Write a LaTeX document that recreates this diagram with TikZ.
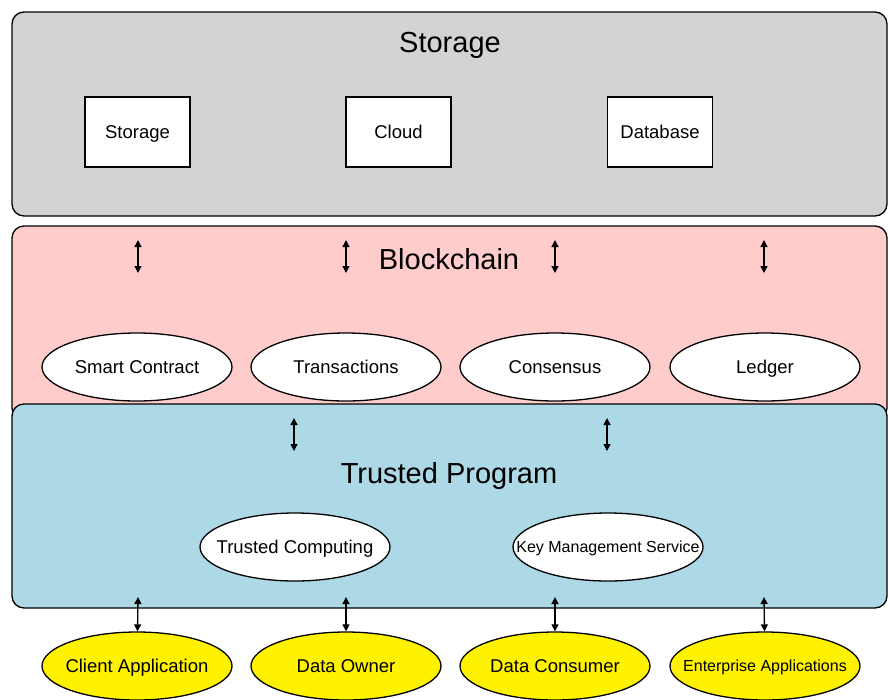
\documentclass[tikz,border=0pt]{standalone}
\usepackage{fontspec}
\setmainfont{Liberation Sans}
\usetikzlibrary{arrows.meta, positioning, shapes}

\definecolor{storagegray}{HTML}{D3D3D3}
\definecolor{chainpink}{HTML}{FFCCCC}
\definecolor{trustblue}{HTML}{ADD8E6}

\begin{document}
\begin{tikzpicture}[x=1pt, y=-1pt, >={Triangle[width=7pt, length=7pt]},
    every node/.style = {font=\fontsize{18.5}{22}\selectfont,
      text height=13.2pt, text depth=0pt},
    layer/.style = {draw, line width=1.3pt, rounded corners=12pt,
      minimum width=875pt, inner sep=0pt},
    title/.style = {font=\fontsize{29}{34}\selectfont, text height=20.8pt},
    box/.style = {draw, fill=white, line width=1.3pt,
      minimum width=105pt, minimum height=70pt},
    oval/.style = {ellipse, draw, fill=white, line width=1.3pt,
      minimum width=190pt, minimum height=68pt, inner ysep=0pt, inner xsep=-28pt},
    app/.style = {oval, fill=yellow},
    small/.style = {font=\fontsize{16}{19}\selectfont, text height=11.5pt},
    link/.style = {<->, line width=1.3pt}]

    \useasboundingbox (0,0) rectangle (888,699);

    % layers
    \node[layer, fill=storagegray, minimum height=204pt] (storage) at (449.5,114) {};
    \node[layer, fill=chainpink, minimum height=194pt] (blockchain) at (449.5,323) {};
    \node[layer, fill=trustblue, minimum height=204pt] (trusted) at (449.5,506) {};

    \node[title] (storagetitle) at (450,42.5) {Storage};
    \node[title] (chaintitle) at (449,259.5) {Blockchain};
    \node[title] (trustedtitle) at (449,473) {Trusted Program};

    % storage
    \node[box] (store) at (137.5,132) {Storage};
    \node[box] (cloud) at (398.5,132) {Cloud};
    \node[box] (database) at (660,132) {Database};

    % blockchain
    \node[oval] (contract) at (137,367) {Smart Contract};
    \node[oval] (transactions) at (346,367) {Transactions};
    \node[oval] (consensus) at (555,367) {Consensus};
    \node[oval] (ledger) at (765,367) {Ledger};

    % trusted program
    \node[oval] (computing) at (295,547) {Trusted Computing};
    \node[oval, small] (kms) at (608,547) {Key Management Service};

    % applications
    \node[app] (client) at (137,666) {Client Application};
    \node[app] (owner) at (346,666) {Data Owner};
    \node[app] (consumer) at (555,666) {Data Consumer};
    \node[app, small] (enterprise) at (765,666) {Enterprise Applications};

    % arrows
    \coordinate (s1) at (138,240); \coordinate (c1) at (138,273);
    \coordinate (s2) at (346,240); \coordinate (c2) at (346,273);
    \coordinate (s3) at (555,240); \coordinate (c3) at (555,273);
    \coordinate (s4) at (764,240); \coordinate (c4) at (764,273);
    \draw[link] (s1) -- (c1);
    \draw[link] (s2) -- (c2);
    \draw[link] (s3) -- (c3);
    \draw[link] (s4) -- (c4);

    \coordinate (t1) at (294,418); \coordinate (p1) at (294,451);
    \coordinate (t2) at (607,418); \coordinate (p2) at (607,451);
    \draw[link] (t1) -- (p1);
    \draw[link] (t2) -- (p2);

    \coordinate (b1) at (138,597);
    \coordinate (b2) at (346,597);
    \coordinate (b3) at (555,597);
    \coordinate (b4) at (764,597);
    \draw[link] (b1) -- (client);
    \draw[link] (b2) -- (owner);
    \draw[link] (b3) -- (consumer);
    \draw[link] (b4) -- (enterprise);
\end{tikzpicture}
\end{document}
